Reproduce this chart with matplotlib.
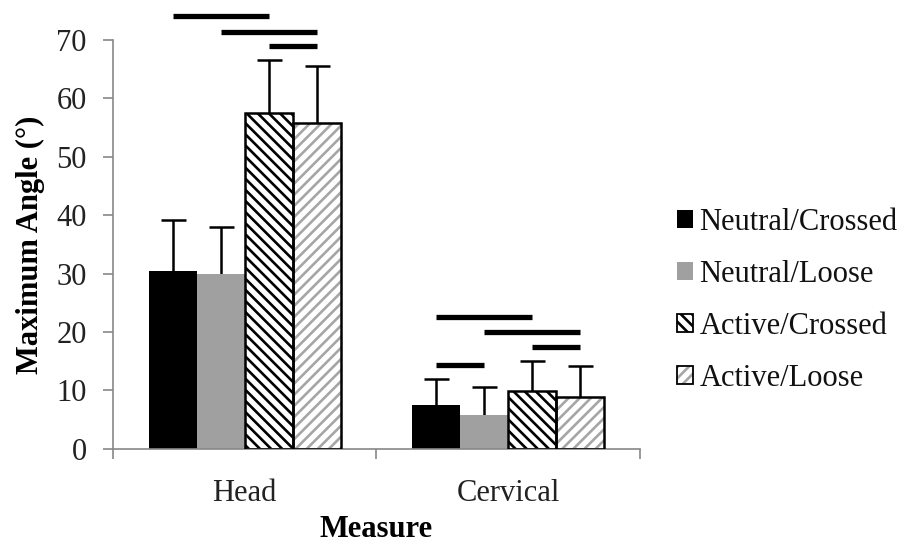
import matplotlib.pyplot as plt
import numpy as np
from matplotlib.patches import Patch
from matplotlib.legend_handler import HandlerTuple

plt.rcParams['font.family'] = ['Liberation Serif', 'DejaVu Serif']
plt.rcParams['hatch.linewidth'] = 1.9

# group means and upper error (SD) per condition
measures = ['Head', 'Cervical']
conditions = ['Neutral/Crossed', 'Neutral/Loose', 'Active/Crossed', 'Active/Loose']
neutral_crossed = [30.5, 7.5]
neutral_loose = [30.0, 5.8]
active_crossed = [57.5, 9.9]
active_loose = [55.8, 8.9]
err_neutral_crossed = [8.7, 4.5]
err_neutral_loose = [8.0, 4.8]
err_active_crossed = [9.0, 5.2]
err_active_loose = [9.7, 5.2]

# significance bars: (measure index, first condition, second condition, height)
sig_head = [(0, 0, 2, 74.1), (0, 1, 3, 71.4), (0, 2, 3, 69.0)]
sig_cervical = [(1, 0, 2, 22.6), (1, 1, 3, 20.0), (1, 2, 3, 17.5), (1, 0, 1, 14.4)]

means = [neutral_crossed, neutral_loose, active_crossed, active_loose]
errs = [err_neutral_crossed, err_neutral_loose, err_active_crossed, err_active_loose]
faces = ['black', '#a0a0a0', 'white', 'white']
hatches = [None, None, '\\\\\\', '///']
hatch_cols = ['black', '#a0a0a0', 'black', '#a6a6a6']
outlined = [False, False, True, True]

fig = plt.figure(figsize=(9.18, 5.46), dpi=100)
ax = fig.add_axes([0.123, 0.178, 0.574, 0.749])

x = np.arange(len(measures))
w = 0.182
offsets = (np.arange(4) - 1.5) * w

for i in range(4):
    ax.bar(x + offsets[i], means[i], w, color=faces[i], edgecolor=hatch_cols[i],
           hatch=hatches[i], linewidth=0, zorder=2)
    # black outline drawn separately so hatch colour can differ
    if outlined[i]:
        ax.bar(x + offsets[i], means[i], w, fill=False, edgecolor='black', linewidth=1.8, zorder=3)
    eb = ax.errorbar(x + offsets[i], means[i], yerr=[np.zeros(2), errs[i]], fmt='none',
                     ecolor='black', elinewidth=1.8, capsize=9, capthick=1.8, zorder=1)
    eb[1][0].set_visible(False)  # upper-only error bars

for m, a, b, h in sig_head + sig_cervical:
    ax.plot([m + offsets[a], m + offsets[b]], [h, h], color='black', lw=3.8,
            solid_capstyle='butt', clip_on=False)

ax.set_xlim(-0.5, 1.5)
ax.set_ylim(0, 70)
ax.set_yticks(range(0, 71, 10))
ax.set_xticks(x)
ax.set_xticklabels(measures)
ax.set_xticks([-0.5, 0.5, 1.5], minor=True)
ax.tick_params(axis='x', which='major', length=0, pad=22, labelsize=22, labelcolor='#222222')
ax.tick_params(axis='x', which='minor', length=7, width=1.2, color='#888888', direction='out')
ax.tick_params(axis='y', length=7, width=1.2, color='#888888', pad=12, labelsize=22,
               labelcolor='#222222')

for s in ['top', 'right']:
    ax.spines[s].set_visible(False)
for s in ['left', 'bottom']:
    ax.spines[s].set_color('#888888')
    ax.spines[s].set_linewidth(1.2)

ax.set_ylabel('Maximum Angle (°)', fontsize=22, fontweight='bold', labelpad=8)
ax.set_xlabel('Measure', fontsize=22, fontweight='bold', labelpad=5)

# legend handles: hatched fill plus black outline on top
handles = []
for i in range(4):
    fill = Patch(facecolor=faces[i], edgecolor=hatch_cols[i], hatch=hatches[i], linewidth=0)
    edge = Patch(fill=False, edgecolor='black', linewidth=1.3 if outlined[i] else 0)
    handles.append((fill, edge))
leg = fig.legend(handles, conditions, loc='center left', bbox_to_anchor=(0.737, 0.450),
                 frameon=False, fontsize=22, handlelength=0.55, handleheight=0.55,
                 handletextpad=0.2, labelspacing=0.75, borderpad=0, borderaxespad=0,
                 handler_map={tuple: HandlerTuple(ndivide=1, pad=0)})
for t in leg.get_texts():
    t.set_color('#111111')

fig.savefig('out.png', dpi=100, facecolor='white')
